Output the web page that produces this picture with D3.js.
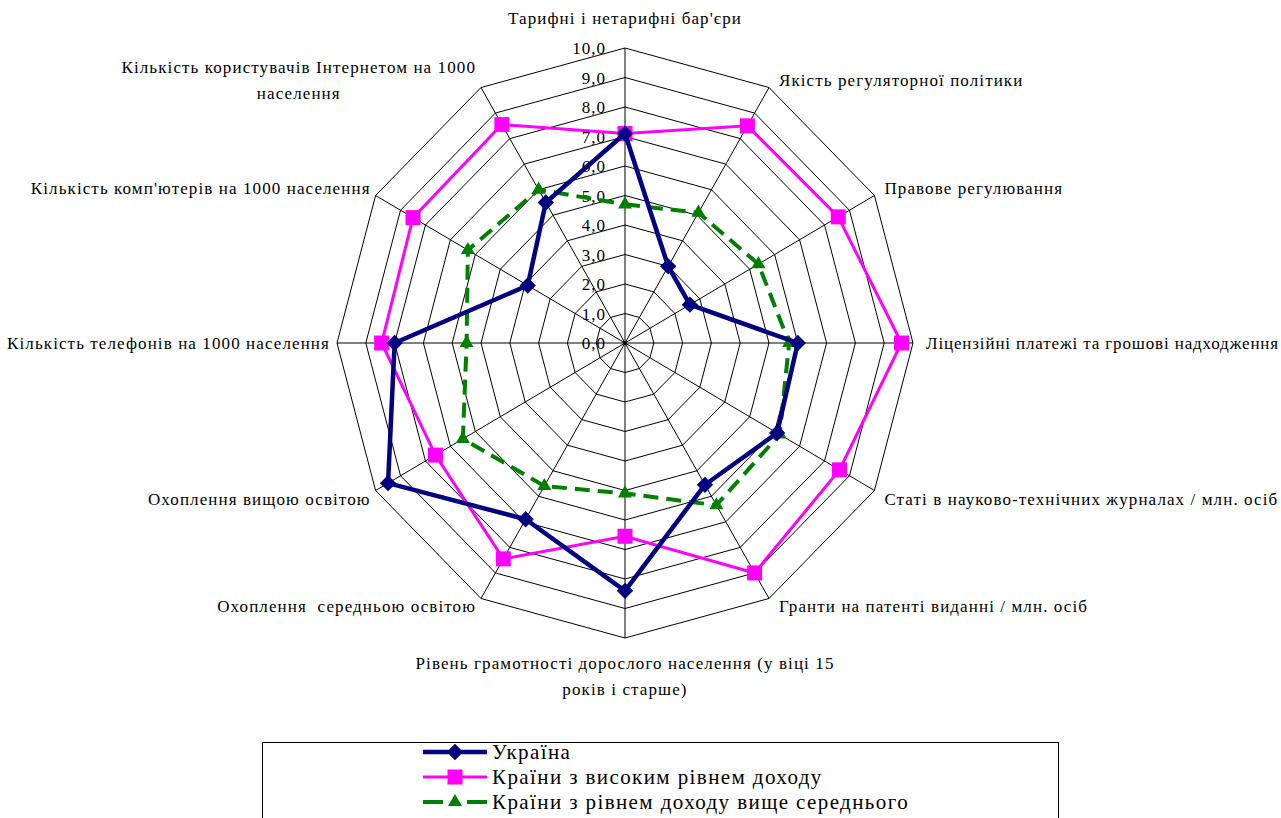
<html><head><meta charset="utf-8"><script src="https://cdn.jsdelivr.net/npm/d3@7"></script></head>
<body style="margin:0">
<svg id="s" width="1281" height="818"></svg>
<script>
// ---------- data ----------
const categories = [
  "Тарифні і нетарифні бар'єри",
  "Якість регуляторної політики",
  "Правове регулювання",
  "Ліцензійні платежі та грошові надходження",
  "Статі в науково-технічних журналах / млн. осіб",
  "Гранти на патенті виданні / млн. осіб",
  "Рівень грамотності дорослого населення (у віці 15\nроків і старше)",
  "Охоплення  середньою освітою",
  "Охоплення вищою освітою",
  "Кількість телефонів на 1000 населення",
  "Кількість комп'ютерів на 1000 населення",
  "Кількість користувачів Інтернетом на 1000\nнаселення"
];
const seriesNames = [
  "Україна",
  "Країни з високим рівнем доходу",
  "Країни з рівнем доходу вище середнього"
];
const ukraine    = [7.1, 3.0, 2.6, 6.0, 6.1, 5.55, 8.4, 6.9, 9.5, 8.0, 3.9, 5.5];
const highIncome = [7.1, 8.5, 8.55, 9.6, 8.6, 9.0, 6.55, 8.45, 7.6, 8.45, 8.5, 8.55];
const upperMid   = [4.7, 5.1, 5.35, 5.7, 6.2, 6.35, 5.1, 5.6, 6.5, 5.5, 6.3, 6.0];
const tickValues = [0,1,2,3,4,5,6,7,8,9,10];
const tickLabels = ["0,0","1,0","2,0","3,0","4,0","5,0","6,0","7,0","8,0","9,0","10,0"];

// ---------- layout ----------
const FONT = "Liberation Serif";
const W = 1281;
const svg = d3.select("#s");
const cx = 625, cy = 343, RX = 288, RY = 295;
const n = categories.length;
const rScale = d3.scaleLinear().domain([0, 10]).range([0, 1]);
const aScale = d3.scaleLinear().domain([0, n]).range([0, 2 * Math.PI]);
const px = (v, i) => cx + rScale(v) * RX * Math.sin(aScale(i));
const py = (v, i) => cy - rScale(v) * RY * Math.cos(aScale(i));

const g = svg.append("g");

tickValues.filter(t => t > 0).forEach(t => {
  const pts = d3.range(n).map(i => [px(t, i), py(t, i)]);
  g.append("path")
    .attr("d", d3.line().curve(d3.curveLinearClosed)(pts))
    .attr("fill", "none").attr("stroke", "#000").attr("stroke-width", 1);
});
d3.range(n).forEach(i => {
  g.append("line")
    .attr("x1", px(0, i)).attr("y1", py(0, i))
    .attr("x2", px(10, i)).attr("y2", py(10, i))
    .attr("stroke", "#000").attr("stroke-width", 1);
});
g.append("circle").attr("cx", cx).attr("cy", cy).attr("r", 2).attr("fill", "#000");

g.selectAll("text.tick").data(tickValues).enter().append("text")
  .attr("class", "tick")
  .style("font-family", d => `"${FONT}"`)
  .attr("x", cx - 19)
  .attr("y", d => py(d, 0) + 6)
  .attr("text-anchor", "end")
  .attr("font-size", 17)
  .attr("letter-spacing", 1)
  .text((d, i) => tickLabels[i]);

categories.forEach((c, i) => {
  const a = aScale(i);
  const s = Math.sin(a), co = Math.cos(a);
  const ox = px(10, i), oy = py(10, i);
  const lines = c.split("\n");
  const lh = 26;
  const tg = g.append("g");
  let ls = 1.1;
  const texts = lines.map(l => tg.append("text").style("font-family", `"${FONT}"`)
    .style("white-space", "pre").attr("font-size", 17).attr("letter-spacing", ls).text(l));
  let widths = texts.map(t => t.node().getComputedTextLength());
  let maxW = d3.max(widths);
  const hBlock = (lines.length - 1) * lh;
  let xc, yTop;
  if (Math.abs(s) < 0.01) {
    xc = ox;
    if (co > 0) yTop = oy - 30 - hBlock; else yTop = oy + 25;
  } else {
    const dx = s > 0 ? (Math.abs(co) < 0.01 ? 13 : 10) : (Math.abs(co) < 0.01 ? -7 : -5);
    const dy = Math.abs(co) < 0.01 ? 0 : (co > 0 ? -8 : 8);
    const yc = oy + dy;
    yTop = yc - hBlock / 2;
    // keep the label inside the picture: tighten letter spacing if needed
    const avail = s > 0 ? (W - 2) - (ox + dx) : (ox + dx) - 2;
    if (maxW > avail) {
      const chars = d3.max(lines, l => l.length);
      ls = Math.max(0, ls - (maxW - avail) / chars);
      texts.forEach(t => t.attr("letter-spacing", ls));
      widths = texts.map(t => t.node().getComputedTextLength());
      maxW = d3.max(widths);
    }
    xc = s > 0 ? ox + dx + maxW / 2 : ox + dx - maxW / 2;
  }
  texts.forEach((t, k) => {
    t.attr("x", xc).attr("y", yTop + k * lh + 6).attr("text-anchor", "middle");
  });
});

const series = [
  { name: seriesNames[0], values: ukraine, color: "#000080", width: 4.5, dash: null, legendDash: null, marker: "diamond" },
  { name: seriesNames[1], values: highIncome, color: "#FF00FF", width: 3, dash: null, legendDash: null, marker: "square" },
  { name: seriesNames[2], values: upperMid, color: "#008000", width: 4, dash: "15,8", legendDash: "20,24,20", marker: "triangle" }
];
const symbolFor = m => m === "diamond" ? d3.symbol().type(d3.symbolDiamond2).size(170)
                   : m === "square" ? d3.symbol().type(d3.symbolSquare).size(225)
                   : d3.symbol().type(d3.symbolTriangle).size(85);

[...series].reverse().forEach(sr => {
  const pts = sr.values.map((v, i) => [px(v, i), py(v, i)]);
  g.append("path")
    .attr("d", d3.line().curve(d3.curveLinearClosed)(pts))
    .attr("fill", "none").attr("stroke", sr.color)
    .attr("stroke-width", sr.width)
    .attr("stroke-dasharray", sr.dash)
    .attr("stroke-linejoin", "miter");
  pts.forEach(p => {
    g.append("path").attr("d", symbolFor(sr.marker)())
      .attr("transform", `translate(${p[0]},${p[1]})`)
      .attr("fill", sr.color);
  });
});

const lg = svg.append("g");
lg.append("rect").attr("x", 262.5).attr("y", 742.5).attr("width", 796).attr("height", 100)
  .attr("fill", "#fff").attr("stroke", "#000").attr("stroke-width", 1);
series.forEach((sr, k) => {
  const y = 752 + k * 25;
  lg.append("line").attr("x1", 423).attr("x2", 487).attr("y1", y).attr("y2", y)
    .attr("stroke", sr.color).attr("stroke-width", sr.width)
    .attr("stroke-dasharray", sr.legendDash);
  lg.append("path").attr("d", symbolFor(sr.marker)())
    .attr("transform", `translate(455,${y})`).attr("fill", sr.color);
  lg.append("text").style("font-family", `"${FONT}"`).attr("x", 492).attr("y", y + 7)
    .attr("font-size", 21).attr("letter-spacing", 1.4).text(sr.name);
});
</script>
</body></html>
